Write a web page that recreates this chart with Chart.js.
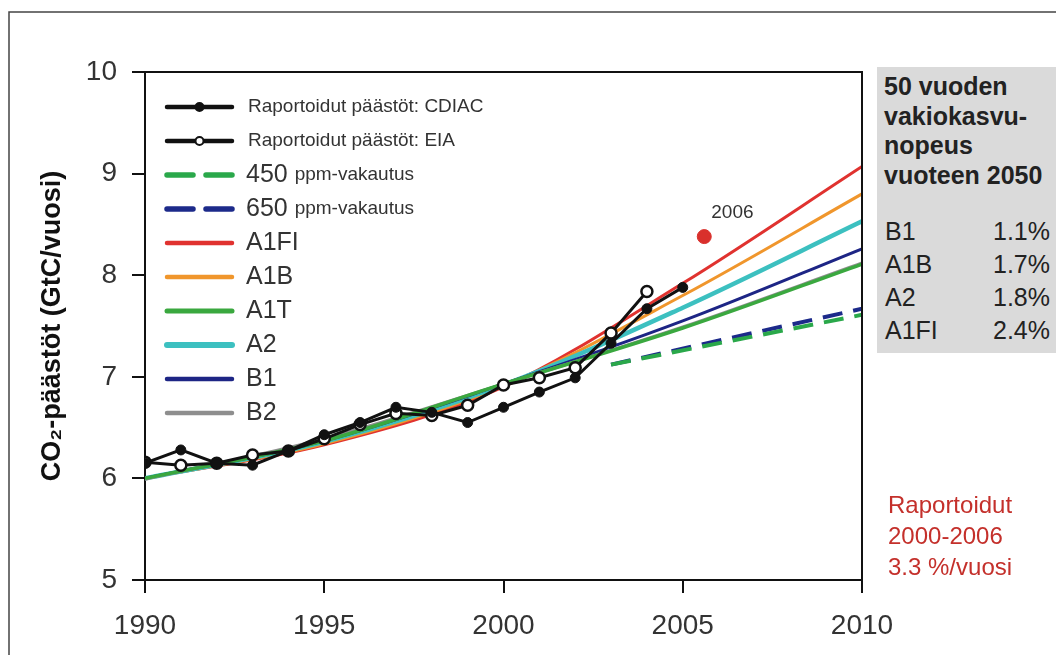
<!DOCTYPE html>
<html>
<head>
<meta charset="utf-8">
<script src="https://cdn.jsdelivr.net/npm/chart.js@4"></script>
<style>
  body { margin: 0; background: #fff; font-family: "Liberation Sans", Arial, sans-serif; }
  #wrap { position: relative; width: 1056px; height: 655px; overflow: hidden; }
  #panel { position: absolute; left: 877px; top: 67px; width: 179px; height: 286px; background: #dadada; }
  .ptitle { position: absolute; left: 884px; top: 72px; font-size: 25px; font-weight: bold; line-height: 29.5px; color: #222; white-space: nowrap; }
  .rates { position: absolute; left: 885px; top: 215px; width: 165px; font-size: 25px; line-height: 33px; color: #222; }
  .rates div { display: flex; justify-content: space-between; }
  .note { position: absolute; left: 888px; top: 489px; font-size: 24px; line-height: 31px; color: #c4302b; }
</style>
</head>
<body>
<div id="wrap">
  <canvas id="c" width="1056" height="655"></canvas>
  <div id="panel"></div>
  <div class="ptitle">50 vuoden<br>vakiokasvu-<br>nopeus<br>vuoteen 2050</div>
  <div class="rates" id="rates"></div>
  <div class="note">Raportoidut<br>2000-2006<br>3.3 %/vuosi</div>
</div>
<script>
// observed emissions
const cdiacYears = [1990, 1991, 1992, 1993, 1994, 1995, 1996, 1997, 1998, 1999, 2000, 2001, 2002, 2003, 2004, 2005];
const cdiac = [6.15, 6.28, 6.15, 6.13, 6.27, 6.43, 6.55, 6.70, 6.65, 6.55, 6.70, 6.85, 6.99, 7.33, 7.67, 7.88];
const eiaYears = [1990, 1991, 1992, 1993, 1994, 1995, 1996, 1997, 1998, 1999, 2000, 2001, 2002, 2003, 2004];
const eia = [6.16, 6.13, 6.15, 6.23, 6.27, 6.39, 6.53, 6.64, 6.62, 6.72, 6.92, 6.99, 7.09, 7.43, 7.84];
const dotYears = [2005.6];
const dotValues = [8.38];

// SRES scenarios
const scenYears = [1990, 1995, 2000, 2005, 2010];
const a1fi = [6.0, 6.33, 6.90, 7.92, 9.07];
const a1b = [6.0, 6.34, 6.91, 7.80, 8.80];
const a1t = [6.0, 6.37, 6.93, 7.48, 8.11];
const a2 = [6.0, 6.36, 6.92, 7.68, 8.53];
const b1 = [6.0, 6.37, 6.93, 7.55, 8.26];
const b2 = [5.99, 6.39, 6.93, 7.49, 8.12];

// stabilisation paths
const stabYears = [2003, 2010];
const ppm450 = [7.12, 7.61];
const ppm650 = [7.12, 7.67];

const xTicks = [1990, 1995, 2000, 2005, 2010];
const yTicks = [5, 6, 7, 8, 9, 10];

const rateNames = ['B1', 'A1B', 'A2', 'A1FI'];
const rateValues = ['1.1%', '1.7%', '1.8%', '2.4%'];

document.getElementById('rates').innerHTML = rateNames
  .map((n, i) => '<div><span>' + n + '</span><span>' + rateValues[i] + '</span></div>').join('');

const pts = (xs, ys) => xs.map((x, i) => ({ x, y: ys[i] }));
const FONT = '"Liberation Sans", Arial, sans-serif';

function scen(label, data, color, width) {
  return { label, data: pts(scenYears, data), borderColor: color, borderWidth: width,
    showLine: true, pointRadius: 0, cubicInterpolationMode: 'monotone' };
}
function stab(label, data, color) {
  return { label, data: pts(stabYears, data), borderColor: color, borderWidth: 4,
    borderDash: [20, 11], showLine: true, pointRadius: 0 };
}

// listed top-most first
const datasets = [
  { label: '2006', data: pts(dotYears, dotValues), pointRadius: 7, backgroundColor: '#d9302c', borderColor: '#d9302c' },
  { label: 'Raportoidut päästöt: CDIAC', data: pts(cdiacYears, cdiac), showLine: true, borderColor: '#111', borderWidth: 3,
    pointRadius: 5, pointBackgroundColor: '#111', pointBorderColor: '#111', pointBorderWidth: 1 },
  { label: 'Raportoidut päästöt: EIA', data: pts(eiaYears, eia), showLine: true, borderColor: '#111', borderWidth: 3,
    pointRadius: 5.5, pointBackgroundColor: '#fff', pointBorderColor: '#111', pointBorderWidth: 2.5 },
  stab('450 ppm-vakautus', ppm450, '#2aa84a'),
  stab('650 ppm-vakautus', ppm650, '#1c2a8a'),
  scen('A1T', a1t, '#3aa83f', 3.5),
  scen('B2', b2, '#8e8e8e', 3),
  scen('B1', b1, '#1d2585', 3),
  scen('A2', a2, '#3cc0c0', 4.5),
  scen('A1B', a1b, '#f0962c', 3),
  scen('A1FI', a1fi, '#e0322f', 3),
];

const legendOrder = ['Raportoidut päästöt: CDIAC', 'Raportoidut päästöt: EIA', '450 ppm-vakautus', '650 ppm-vakautus',
  'A1FI', 'A1B', 'A1T', 'A2', 'B1', 'B2'];

const frame = {
  id: 'frame',
  beforeDraw(chart) {
    const ctx = chart.ctx;
    ctx.save();
    ctx.strokeStyle = '#444';
    ctx.lineWidth = 1.5;
    ctx.beginPath();
    ctx.moveTo(9, 655); ctx.lineTo(9, 12); ctx.lineTo(1056, 12);
    ctx.stroke();
    ctx.restore();
  },
  afterDraw(chart) {
    const { ctx, chartArea: a } = chart;
    ctx.save();
    ctx.strokeStyle = '#111';
    ctx.lineWidth = 2;
    ctx.beginPath();
    ctx.moveTo(a.left - 1, a.top); ctx.lineTo(a.right, a.top); ctx.lineTo(a.right, a.bottom);
    ctx.stroke();

    // label of the 2006 point
    const xs = chart.scales.x, ys = chart.scales.y;
    ctx.fillStyle = '#333';
    ctx.font = '19px ' + FONT;
    ctx.textBaseline = 'middle';
    ctx.fillText('2006', xs.getPixelForValue(dotYears[0]) + 7, ys.getPixelForValue(dotValues[0]) - 24);

    // legend
    legendOrder.forEach((name, i) => {
      const ds = datasets.find(d => d.label === name);
      const y = 107 + i * 34;
      const x0 = 167, x1 = 232;
      ctx.strokeStyle = ds.borderColor;
      ctx.lineWidth = ds.borderWidth + 1.5;
      ctx.lineCap = 'round';
      ctx.setLineDash(ds.borderDash ? [26, 13] : []);
      ctx.beginPath();
      ctx.moveTo(x0, y); ctx.lineTo(x1, y);
      ctx.stroke();
      ctx.setLineDash([]);
      if (ds.pointRadius) {
        ctx.beginPath();
        ctx.arc((x0 + x1) / 2, y, 4, 0, Math.PI * 2);
        ctx.fillStyle = ds.pointBackgroundColor;
        ctx.fill();
        ctx.lineWidth = 2;
        ctx.strokeStyle = '#111';
        ctx.stroke();
      }
      ctx.fillStyle = '#333';
      const m = name.match(/^(\d+) (.*)$/);
      let tx = 246;
      if (m) {
        ctx.font = '25px ' + FONT;
        ctx.fillText(m[1], tx, y);
        tx += ctx.measureText(m[1] + ' ').width;
        ctx.font = '19px ' + FONT;
        ctx.fillText(m[2], tx, y);
      } else if (name.startsWith('Raportoidut')) {
        ctx.font = '19px ' + FONT;
        ctx.fillText(name, tx + 2, y);
      } else {
        ctx.font = '25px ' + FONT;
        ctx.fillText(name, tx, y);
      }
    });
    ctx.restore();
  }
};

new Chart(document.getElementById('c'), {
  type: 'scatter',
  data: { datasets },
  options: {
    responsive: false,
    animation: false,
    events: [],
    devicePixelRatio: 1,
    layout: { padding: { top: 72, right: 194, left: 0, bottom: 0 } },
    plugins: { legend: { display: false }, tooltip: { enabled: false } },
    scales: {
      x: {
        type: 'linear', min: 1990, max: 2010,
        afterFit: s => { s.height = 75; },
        afterBuildTicks: s => { s.ticks = xTicks.map(v => ({ value: v })); },
        border: { display: true, color: '#111', width: 2 },
        grid: { drawOnChartArea: false, drawTicks: true, tickLength: 13, color: '#111', lineWidth: 2 },
        ticks: { padding: 16, color: '#333', font: { family: FONT, size: 28 }, callback: v => String(v), maxRotation: 0 }
      },
      y: {
        min: 5, max: 10,
        afterFit: s => { s.width = 145; },
        afterBuildTicks: s => { s.ticks = yTicks.map(v => ({ value: v })); },
        border: { display: true, color: '#111', width: 2 },
        grid: { drawOnChartArea: false, drawTicks: true, tickLength: 13, color: '#111', lineWidth: 2 },
        ticks: { padding: 15, color: '#333', font: { family: FONT, size: 28 }, callback: v => String(v) },
        title: { display: true, text: 'CO₂-päästöt (GtC/vuosi)', color: '#111',
          font: { family: FONT, size: 27, weight: 'bold' }, padding: { top: 36, bottom: 0 } }
      }
    }
  },
  plugins: [frame]
});
</script>
</body>
</html>
